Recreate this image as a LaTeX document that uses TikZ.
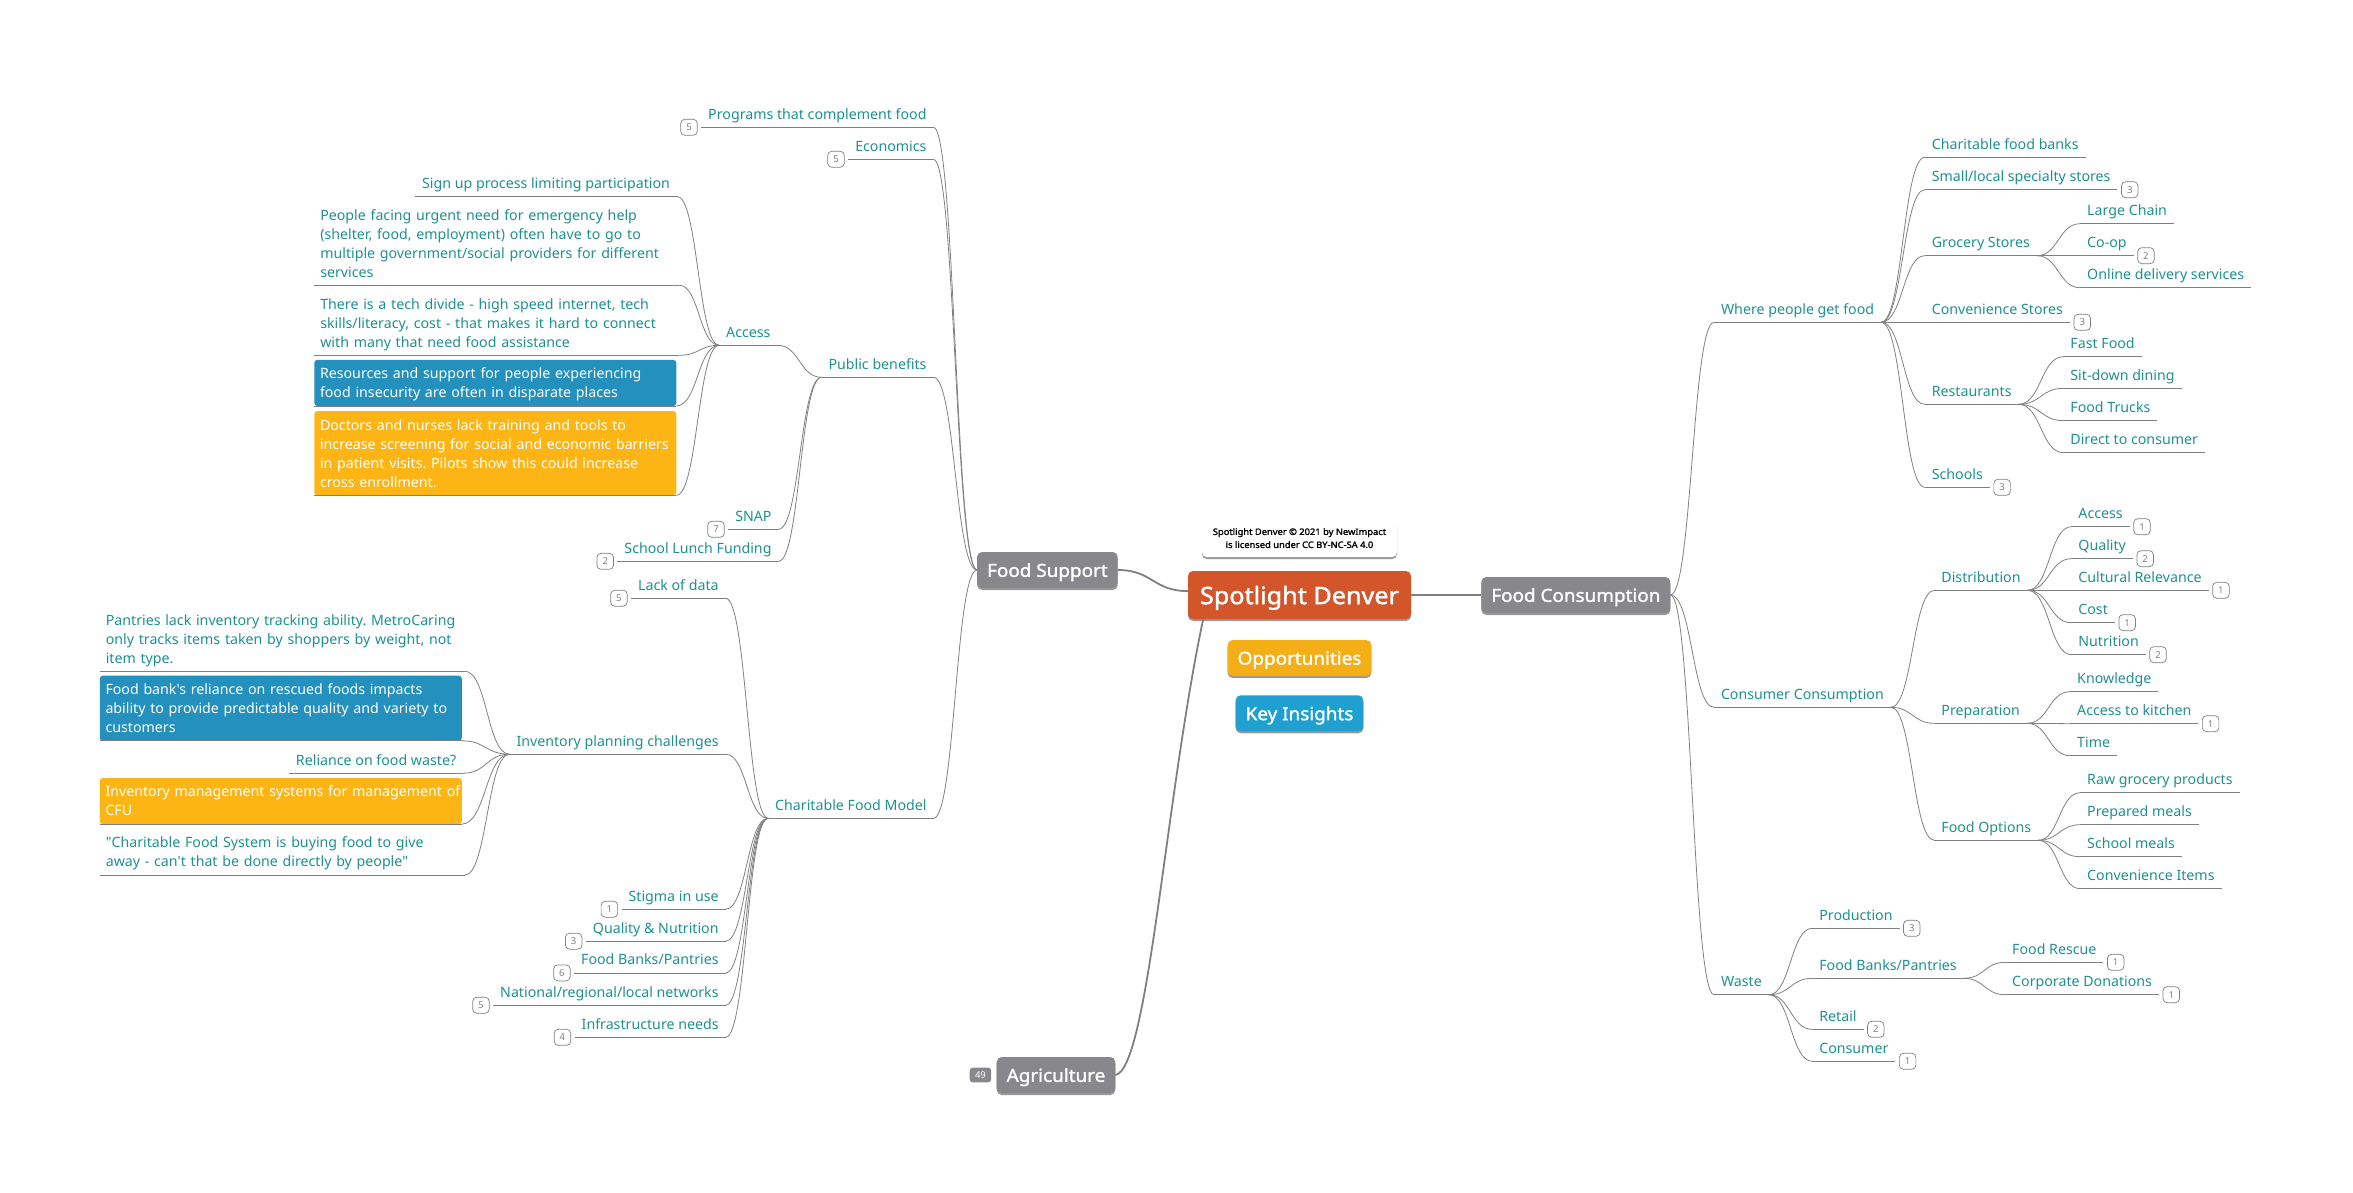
\documentclass[tikz,border=0pt]{standalone}
\usepackage{fontspec}
\setmainfont[Ligatures=TeXOff]{Noto Sans}
\newfontfamily\headfont[Ligatures=TeXOff, FakeBold=1.6, FakeStretch=1.05]{Noto Sans}
\frenchspacing
\usetikzlibrary{positioning}
\usetikzlibrary{calc}
\usetikzlibrary{shadows}

\definecolor{topicteal}{HTML}{1E9090}
\definecolor{linegray}{HTML}{808080}
\definecolor{boxgray}{HTML}{88888C}
\definecolor{centralred}{HTML}{D2562A}
\definecolor{opporange}{HTML}{F4AE16}
\definecolor{keyblue}{HTML}{20A0D0}
\definecolor{noteblue}{HTML}{2390BD}
\definecolor{noteyellow}{HTML}{FDB515}

\tikzset{
    link/.style={draw=linegray, line width=0.8pt, to path={let \p1=(\tikztostart), \p2=(\tikztotarget) in .. controls ({.5*\x1+.5*\x2},\y1) and ({.5*\x1+.5*\x2},\y2) .. (\p2)}},
    mainlink/.style={link, line width=1.8pt},
    underline/.style={draw=linegray, line width=0.8pt},
    topic/.style={text=topicteal, font=\fontsize{14.2}{19}\selectfont, inner xsep=7pt, inner ysep=4.5pt, outer sep=0pt,
        append after command={(\tikzlastnode.south west) edge[underline] (\tikzlastnode.south east)}},
    rtopic/.style={topic, text depth=3.7pt, anchor=south west},
    ltopic/.style={topic, text depth=3.7pt, anchor=south east},
    wraptopic/.style={topic, anchor=south west, text width=353pt, inner xsep=6pt, align=left, execute at begin node={\rule{0pt}{14.4pt}}, execute at end node={\rule[-3.7pt]{0pt}{3.7pt}}},
    filltopic/.style={wraptopic, text=white, text width=350.6pt, inner xsep=5.7pt, rounded corners=3pt},
    bluenote/.style={filltopic, fill=noteblue},
    yellownote/.style={filltopic, fill=noteyellow},
    countbox/.style={draw=linegray, line width=0.7pt, fill=white, rounded corners=4pt, text=linegray, font=\fontsize{9.5}{10}\selectfont, minimum width=16.5pt, minimum height=16pt, inner sep=0pt, outer sep=0pt},
    mainbox/.style={fill=boxgray, text=white, rounded corners=5pt, font=\headfont\fontsize{18}{20}\selectfont, inner xsep=10pt, text depth=0pt, minimum height=36pt, outer sep=0pt, drop shadow={shadow xshift=0pt, shadow yshift=-2pt, opacity=0.4, fill=black}},
}

\begin{document}
\begin{tikzpicture}[x=1pt, y=-1pt]
    \useasboundingbox (0,0) rectangle (2353,1193);

    \node [mainbox, fill=centralred, font=\headfont\fontsize{24}{28}\selectfont, inner xsep=12pt, minimum height=48pt] (central) at (1299.5,595) {Spotlight Denver};
    \node [mainbox] (support) at (1047.4,570) {Food Support};
    \node [mainbox, right = 70.3pt of central] (consumption) {Food Consumption};
    \node [mainbox] (agri) at (1056,1075) {Agriculture};
    \node [mainbox, fill=opporange, below = 21pt of central] (opp) {Opportunities};
    \node [mainbox, fill=keyblue, below = 19.3pt of opp] (key) {Key Insights};
    \node [fill=white, rounded corners=5pt, align=center, minimum width=195pt, minimum height=38pt, inner sep=0pt, font=\headfont\fontsize{8.9}{13}\selectfont, drop shadow={shadow xshift=0pt, shadow yshift=-2pt, opacity=0.4, fill=black}, above = 13.7pt of central] (license) {Spotlight Denver © 2021 by NewImpact\\is licensed under CC BY-NC-SA 4.0};
    \node [fill=boxgray, rounded corners=3pt, text=white, font=\fontsize{9.5}{10}\selectfont, minimum width=21.5pt, minimum height=14.7pt, inner sep=0pt, left = 5.3pt of agri] (agricount) {49};

    \draw [mainlink] (support.east) to (central.178);
    \draw [mainlink] (central.east) -- (consumption.west);
    \draw [draw=linegray, line width=1.8pt] (agri.east) .. controls (1148,1070) and (1165,800) .. (central.194);

    \node [rtopic] (where) at (1714,322.3) {Where people get food};
    \node [rtopic] (charitable) at (1924.8,157.3) {Charitable food banks};
    \node [rtopic] (small) at (1924.8,189.7) {Small/local specialty stores};
    \node [rtopic] (grocery) at (1924.8,255.7) {Grocery Stores};
    \node [rtopic] (convenience) at (1924.8,322.3) {Convenience Stores};
    \node [rtopic] (restaurants) at (1924.8,404.3) {Restaurants};
    \node [rtopic] (schools) at (1924.8,487.3) {Schools};
    \node [rtopic] (chain) at (2080.2,223.7) {Large Chain};
    \node [rtopic] (coop) at (2080.2,255.7) {Co-op};
    \node [rtopic] (online) at (2080.2,287.7) {Online delivery services};
    \node [rtopic] (fastfood) at (2063.4,356.7) {Fast Food};
    \node [rtopic] (sitdown) at (2063.4,388.3) {Sit-down dining};
    \node [rtopic] (trucks) at (2063.4,420.7) {Food Trucks};
    \node [rtopic] (direct) at (2063.4,452.7) {Direct to consumer};

    \node [rtopic] (consumer) at (1714,707.3) {Consumer Consumption};
    \node [rtopic] (distribution) at (1934.4,590.3) {Distribution};
    \node [rtopic] (preparation) at (1934.4,723.3) {Preparation};
    \node [rtopic] (options) at (1934.4,840.3) {Food Options};
    \node [rtopic] (access) at (2071.4,526.7) {Access};
    \node [rtopic] (quality) at (2071.4,558.7) {Quality};
    \node [rtopic] (cultural) at (2071.4,590.3) {Cultural Relevance};
    \node [rtopic] (cost) at (2071.4,622.7) {Cost};
    \node [rtopic] (nutrition) at (2071.4,654.7) {Nutrition};
    \node [rtopic] (knowledge) at (2070.2,691.7) {Knowledge};
    \node [rtopic] (kitchen) at (2070.2,723.7) {Access to kitchen};
    \node [rtopic] (time) at (2070.2,755.7) {Time};
    \node [rtopic] (raw) at (2080.2,792.7) {Raw grocery products};
    \node [rtopic] (prepared) at (2080.2,824.7) {Prepared meals};
    \node [rtopic] (schoolmeals) at (2080.2,856.7) {School meals};
    \node [rtopic] (items) at (2080.2,888.7) {Convenience Items};

    \node [rtopic] (waste) at (1714,994.7) {Waste};
    \node [rtopic] (production) at (1812.3,928.3) {Production};
    \node [rtopic] (banks) at (1812.3,978.3) {Food Banks/Pantries};
    \node [rtopic] (retail) at (1812.3,1029.3) {Retail};
    \node [rtopic] (buyer) at (1812.3,1061.3) {Consumer};
    \node [rtopic] (rescue) at (2005.2,962.3) {Food Rescue};
    \node [rtopic] (donations) at (2005.2,994.7) {Corporate Donations};

    \node [countbox, right = 4pt of small.south east] (smallc) {3};
    \node [countbox, right = 4pt of coop.south east] (coopc) {2};
    \node [countbox, right = 4pt of convenience.south east] (conveniencec) {3};
    \node [countbox, right = 4pt of schools.south east] (schoolsc) {3};
    \node [countbox, right = 4pt of access.south east] (accessc) {1};
    \node [countbox, right = 4pt of quality.south east] (qualityc) {2};
    \node [countbox, right = 4pt of cultural.south east] (culturalc) {1};
    \node [countbox, right = 4pt of cost.south east] (costc) {1};
    \node [countbox, right = 4pt of nutrition.south east] (nutritionc) {2};
    \node [countbox, right = 4pt of kitchen.south east] (kitchenc) {1};
    \node [countbox, right = 4pt of production.south east] (productionc) {3};
    \node [countbox, right = 4pt of retail.south east] (retailc) {2};
    \node [countbox, right = 4pt of buyer.south east] (buyerc) {1};
    \node [countbox, right = 4pt of rescue.south east] (rescuec) {1};
    \node [countbox, right = 4pt of donations.south east] (donationsc) {1};

    \draw [link] (consumption.east) to (where.south west);
    \draw [link] (consumption.east) to (consumer.south west);
    \draw [link] (consumption.east) to (waste.south west);

    \draw [link] (where.south east) to (charitable.south west);
    \draw [link] (where.south east) to (small.south west);
    \draw [link] (where.south east) to (grocery.south west);
    \draw [link] (where.south east) to (convenience.south west);
    \draw [link] (where.south east) to (restaurants.south west);
    \draw [link] (where.south east) to (schools.south west);
    \draw [link] (grocery.south east) to (chain.south west);
    \draw [link] (grocery.south east) to (coop.south west);
    \draw [link] (grocery.south east) to (online.south west);
    \draw [link] (restaurants.south east) to (fastfood.south west);
    \draw [link] (restaurants.south east) to (sitdown.south west);
    \draw [link] (restaurants.south east) to (trucks.south west);
    \draw [link] (restaurants.south east) to (direct.south west);

    \draw [link] (consumer.south east) to (distribution.south west);
    \draw [link] (consumer.south east) to (preparation.south west);
    \draw [link] (consumer.south east) to (options.south west);
    \draw [link] (distribution.south east) to (access.south west);
    \draw [link] (distribution.south east) to (quality.south west);
    \draw [link] (distribution.south east) to (cultural.south west);
    \draw [link] (distribution.south east) to (cost.south west);
    \draw [link] (distribution.south east) to (nutrition.south west);
    \draw [link] (preparation.south east) to (knowledge.south west);
    \draw [link] (preparation.south east) to (kitchen.south west);
    \draw [link] (preparation.south east) to (time.south west);
    \draw [link] (options.south east) to (raw.south west);
    \draw [link] (options.south east) to (prepared.south west);
    \draw [link] (options.south east) to (schoolmeals.south west);
    \draw [link] (options.south east) to (items.south west);

    \draw [link] (waste.south east) to (production.south west);
    \draw [link] (waste.south east) to (banks.south west);
    \draw [link] (waste.south east) to (retail.south west);
    \draw [link] (waste.south east) to (buyer.south west);
    \draw [link] (banks.south east) to (rescue.south west);
    \draw [link] (banks.south east) to (donations.south west);

    \node [ltopic] (programs) at (933.5,127.3) {Programs that complement food};
    \node [ltopic] (economics) at (933.5,159.3) {Economics};
    \node [ltopic] (benefits) at (933.5,377.3) {Public benefits};
    \node [ltopic] (model) at (933.5,818.3) {Charitable Food Model};
    \node [ltopic] (publicaccess) at (777.5,345.3) {Access};
    \node [ltopic] (snap) at (778.5,529.3) {SNAP};
    \node [ltopic] (lunch) at (778.5,561.3) {School Lunch Funding};
    \node [ltopic] (signup) at (677,196.3) {Sign up process limiting participation};
    \node [wraptopic] (urgent) at (314.3,285.3) {People facing urgent need for emergency help\\(shelter, food, employment) often have to go to\\multiple government/social providers for different\\services};
    \node [wraptopic] (divide) at (314.3,355.3) {There is a tech divide - high speed internet, tech\\skills/literacy, cost - that makes it hard to connect\\with many that need food assistance};
    \node [bluenote] (resources) at (314.3,406) {Resources and support for people experiencing\\food insecurity are often in disparate places};
    \node [yellownote] (doctors) at (314.3,495.3) {Doctors and nurses lack training and tools to\\increase screening for social and economic barriers\\in patient visits. Pilots show this could increase\\cross enrollment.};

    \node [ltopic] (lack) at (725.6,598.2) {Lack of data};
    \node [ltopic] (inventory) at (725.6,754.2) {Inventory planning challenges};
    \node [ltopic] (stigma) at (725.6,909.2) {Stigma in use};
    \node [ltopic] (nutri) at (725.6,941.2) {Quality \& Nutrition};
    \node [ltopic] (pantries) at (725.6,972.9) {Food Banks/Pantries};
    \node [ltopic] (networks) at (725.6,1005.2) {National/regional/local networks};
    \node [ltopic] (infra) at (725.6,1037.3) {Infrastructure needs};
    \node [wraptopic] (tracking) at (99.8,671.2) {Pantries lack inventory tracking ability. MetroCaring\\only tracks items taken by shoppers by weight, not\\item type.};
    \node [bluenote] (rescued) at (99.8,740.8) {Food bank's reliance on rescued foods impacts\\ability to provide predictable quality and variety to\\customers};
    \node [ltopic] (reliance) at (463.2,773.2) {Reliance on food waste?};
    \node [yellownote] (systems) at (99.8,824.1) {\mbox{Inventory management systems for management of}\\CFU};
    \node [wraptopic] (quote) at (99.8,875.1) {"Charitable Food System is buying food to give\\away - can't that be done directly by people"};

    \node [countbox, left = 4pt of programs.south west] (programsc) {5};
    \node [countbox, left = 4pt of economics.south west] (economicsc) {5};
    \node [countbox, left = 4pt of snap.south west] (snapc) {7};
    \node [countbox, left = 4pt of lunch.south west] (lunchc) {2};
    \node [countbox, left = 4pt of lack.south west] (lackc) {5};
    \node [countbox, left = 4pt of stigma.south west] (stigmac) {1};
    \node [countbox, left = 4pt of nutri.south west] (nutric) {3};
    \node [countbox, left = 4pt of pantries.south west] (pantriesc) {6};
    \node [countbox, left = 4pt of networks.south west] (networksc) {5};
    \node [countbox, left = 4pt of infra.south west] (infrac) {4};

    \draw [link] (support.west) to (programs.south east);
    \draw [link] (support.west) to (economics.south east);
    \draw [link] (support.west) to (benefits.south east);
    \draw [link] (support.west) to (model.south east);

    \draw [link] (benefits.south west) to (publicaccess.south east);
    \draw [link] (benefits.south west) to (snap.south east);
    \draw [link] (benefits.south west) to (lunch.south east);
    \draw [link] (publicaccess.south west) to (signup.south east);
    \draw [link] (publicaccess.south west) to (urgent.south east);
    \draw [link] (publicaccess.south west) to (divide.south east);
    \draw [link] (publicaccess.south west) to (resources.south east);
    \draw [link] (publicaccess.south west) to (doctors.south east);

    \draw [link] (model.south west) to (lack.south east);
    \draw [link] (model.south west) to (inventory.south east);
    \draw [link] (model.south west) to (stigma.south east);
    \draw [link] (model.south west) to (nutri.south east);
    \draw [link] (model.south west) to (pantries.south east);
    \draw [link] (model.south west) to (networks.south east);
    \draw [link] (model.south west) to (infra.south east);
    \draw [link] (inventory.south west) to (tracking.south east);
    \draw [link] (inventory.south west) to (rescued.south east);
    \draw [link] (inventory.south west) to (reliance.south east);
    \draw [link] (inventory.south west) to (systems.south east);
    \draw [link] (inventory.south west) to (quote.south east);
\end{tikzpicture}
\end{document}
